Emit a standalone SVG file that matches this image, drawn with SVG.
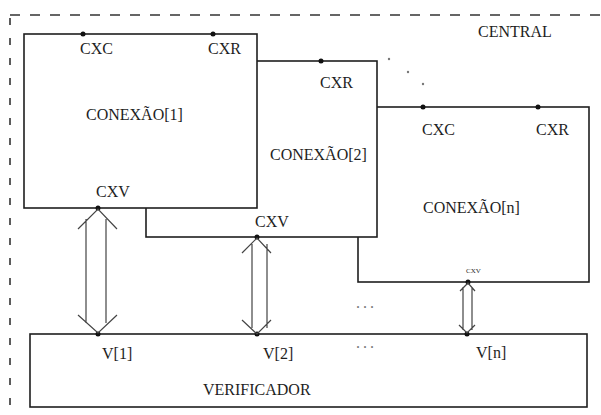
<svg xmlns="http://www.w3.org/2000/svg" width="601" height="415" viewBox="0 0 601 415">
<style>
.box{fill:#fff;stroke:#1e1e1e;stroke-width:1.6}
.t{font-size:16px;fill:#1e1e1e}
.s{font-size:7px;fill:#1e1e1e}
.dot{fill:#111}
.arr{fill:none;stroke:#444;stroke-width:1.2}
.dsh{fill:none;stroke:#333;stroke-width:1.6}
.gd{fill:#777}
.el{fill:#777;letter-spacing:3px}
</style>
<rect width="601" height="415" fill="#fff"/>
<g id="central">
<path class="dsh" d="M10 15 H601" stroke-dasharray="10 10"/>
<path class="dsh" d="M10 18 V415" stroke-dasharray="7 13" stroke-width="1.3"/>
<text class="t" font-family="Liberation Serif" x="478" y="37">CENTRAL</text>
</g>
<g id="conexao-n">
<rect class="box" x="358" y="107" width="231" height="175"/>
<circle class="dot" cx="423" cy="107" r="2.5"/>
<circle class="dot" cx="538" cy="107" r="2.5"/>
<circle class="dot" cx="468" cy="282" r="2.5"/>
<text class="t" font-family="Liberation Serif" x="422" y="135">CXC</text>
<text class="t" font-family="Liberation Serif" x="536" y="135">CXR</text>
<text class="t" font-family="Liberation Serif" x="423" y="213">CONEXÃO[n]</text>
<text class="s" font-family="Liberation Serif" x="466" y="273">CXV</text>
</g>
<g id="conexao-2">
<rect class="box" x="146" y="61" width="231" height="176"/>
<circle class="dot" cx="321" cy="61" r="2.5"/>
<circle class="dot" cx="257" cy="237" r="2.5"/>
<text class="t" font-family="Liberation Serif" x="320" y="88">CXR</text>
<text class="t" font-family="Liberation Serif" x="270" y="160">CONEXÃO[2]</text>
<text class="t" font-family="Liberation Serif" x="255" y="227">CXV</text>
</g>
<g id="conexao-1">
<rect class="box" x="24" y="34" width="233" height="174"/>
<circle class="dot" cx="83" cy="34" r="2.5"/>
<circle class="dot" cx="213" cy="34" r="2.5"/>
<circle class="dot" cx="98" cy="208" r="2.5"/>
<text class="t" font-family="Liberation Serif" x="80" y="54">CXC</text>
<text class="t" font-family="Liberation Serif" x="208" y="54">CXR</text>
<text class="t" font-family="Liberation Serif" x="86" y="120">CONEXÃO[1]</text>
<text class="t" font-family="Liberation Serif" x="96" y="197">CXV</text>
</g>
<g id="verificador">
<rect class="box" x="30" y="334" width="557" height="73"/>
<circle class="dot" cx="98" cy="334" r="2.5"/>
<circle class="dot" cx="257" cy="334" r="2.5"/>
<circle class="dot" cx="467" cy="334" r="2.5"/>
<text class="t" font-family="Liberation Serif" x="102" y="359">V[1]</text>
<text class="t" font-family="Liberation Serif" x="263" y="359">V[2]</text>
<text class="t" font-family="Liberation Serif" x="476" y="358">V[n]</text>
<text class="t" font-family="Liberation Serif" x="203" y="395">VERIFICADOR</text>
</g>
<g id="connectors">
<path class="arr" d="M78 229 L98 209 L117 229 M86 219 V323 M106 219 V323 M78 315 L98 333 L117 315"/>
<path class="arr" d="M242 253 L257 238 L271 253 M252 244 V328 M267 244 V328 M242 320 L257 334 L271 320"/>
<path class="arr" d="M460 291 L468 283 L475 291 M463 287 V330 M472 287 V330 M459 325 L467 333 L475 325"/>
</g>
<g id="ellipses">
<text class="t el" font-family="Liberation Serif" x="356" y="308">...</text>
<text class="t el" font-family="Liberation Serif" x="356" y="348">...</text>
<circle class="gd" cx="389" cy="59" r="1.2"/>
<circle class="gd" cx="408" cy="72" r="1.2"/>
<circle class="gd" cx="423" cy="84" r="1.2"/>
</g>
</svg>
